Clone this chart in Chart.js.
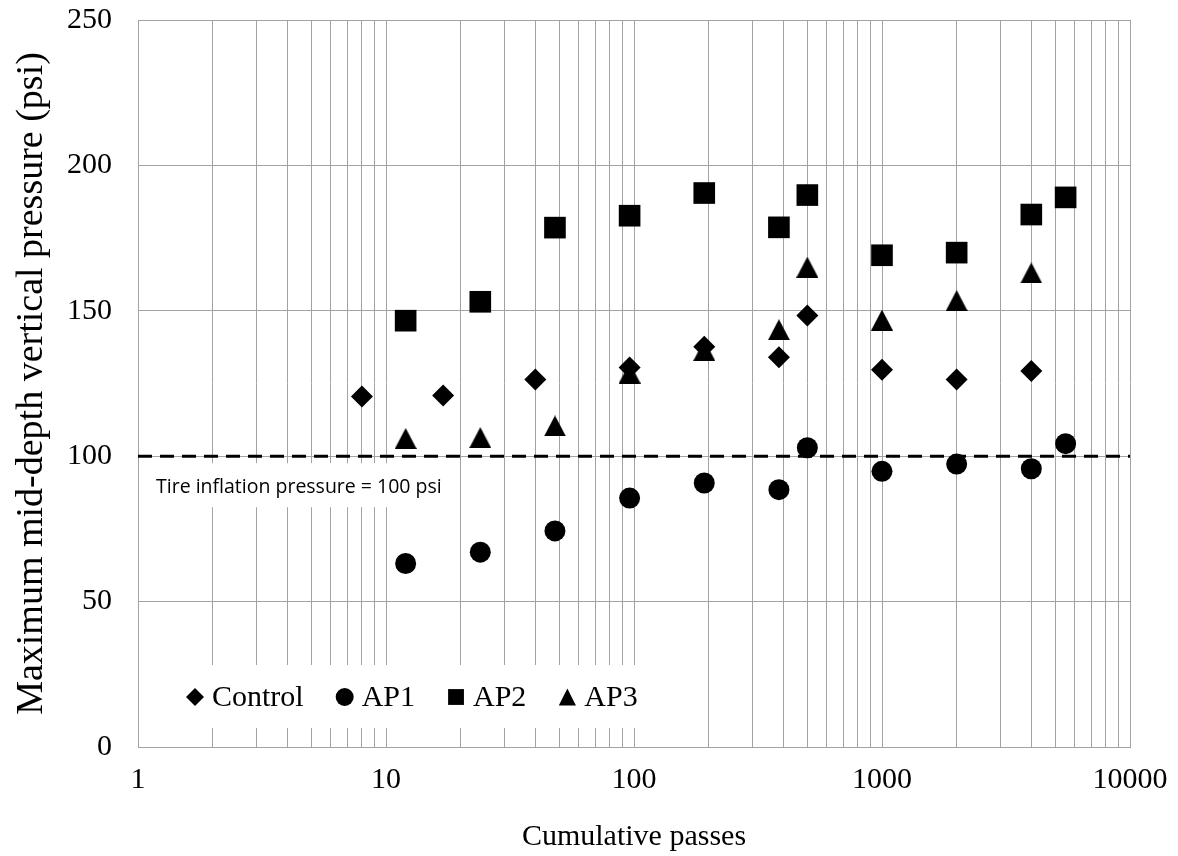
<!DOCTYPE html>
<html><head><meta charset="utf-8">
<script src="https://cdn.jsdelivr.net/npm/chart.js@4/dist/chart.umd.min.js"></script>
<style>html,body{margin:0;padding:0;background:#fff}#wrap{width:1178px;height:856px}</style>
</head><body><div id="wrap"><canvas id="c" width="1178" height="856"></canvas></div>
<script>
// ---- data ----
const xTickLabels = [1, 10, 100, 1000, 10000];
const yTickLabels = [0, 50, 100, 150, 200, 250];
const seriesNames = ['Control', 'AP1', 'AP2', 'AP3'];
const controlPasses = [8, 17, 40, 96, 192, 384, 500, 1000, 2000, 4000];
const controlPressure = [120.5, 120.9, 126.4, 130.5, 137.6, 134.0, 148.4, 129.7, 126.4, 129.3];
const ap1Passes = [12, 24, 48, 96, 192, 384, 500, 1000, 2000, 4000, 5500];
const ap1Pressure = [63.1, 67.0, 74.3, 85.6, 90.8, 88.5, 102.9, 94.8, 97.3, 95.7, 104.3];
const ap2Passes = [12, 24, 48, 96, 192, 384, 500, 1000, 2000, 4000, 5500];
const ap2Pressure = [146.6, 153.1, 178.6, 182.7, 190.5, 178.7, 189.8, 169.1, 170.0, 183.1, 189.0];
const ap3Passes = [12, 24, 48, 96, 192, 384, 500, 1000, 2000, 4000];
const ap3Pressure = [106.1, 106.4, 110.4, 128.6, 136.4, 143.5, 165.0, 146.8, 153.5, 163.0];
const tirePressure = 100;
const tireLabel = 'Tire inflation pressure = 100 psi';
const xTitle = 'Cumulative passes';
const yTitle = 'Maximum mid-depth vertical pressure (psi)';

// ---- styling helpers ----
const SERIF = '"Liberation Serif", "Times New Roman", serif';
function triCanvas(w, h) {
  const c = document.createElement('canvas'); c.width = w; c.height = h;
  const g = c.getContext('2d'); g.fillStyle = '#000';
  g.beginPath(); g.moveTo(w / 2, 0); g.lineTo(w, h); g.lineTo(0, h); g.closePath(); g.fill();
  return c;
}
const toXY = (xs, ys) => xs.map((v, i) => ({x: v, y: ys[i]}));

function drawMarker(ctx, kind, cx, cy, s) {
  ctx.beginPath();
  if (kind === 0) { ctx.moveTo(cx - s / 2, cy); ctx.lineTo(cx, cy - s / 2); ctx.lineTo(cx + s / 2, cy); ctx.lineTo(cx, cy + s / 2); ctx.closePath(); }
  else if (kind === 1) { ctx.arc(cx, cy, s / 2, 0, Math.PI * 2); }
  else if (kind === 2) { const q = s * 0.88; ctx.rect(cx - q / 2, cy - q / 2, q, q); }
  else { const q = s * 0.95; ctx.moveTo(cx, cy - q / 2); ctx.lineTo(cx + q / 2, cy + q / 2); ctx.lineTo(cx - q / 2, cy + q / 2); ctx.closePath(); }
  ctx.fill();
}

const overlay = {
  id: 'overlay',
  beforeDatasetsDraw(chart) {
    const {ctx, chartArea: a, scales: {y}} = chart;
    const yy = y.getPixelForValue(tirePressure);
    ctx.save();
    // annotation label box
    ctx.font = '19.5px "Open Sans", "Noto Sans", sans-serif';
    const tw = ctx.measureText(tireLabel).width;
    ctx.fillStyle = '#fff';
    ctx.fillRect(a.left + 1, yy + 7, tw + 34, 44);
    ctx.fillStyle = '#000'; ctx.textBaseline = 'middle'; ctx.textAlign = 'left';
    ctx.fillText(tireLabel, a.left + 18, yy + 31);
    // dashed line
    ctx.strokeStyle = '#000'; ctx.lineWidth = 3; ctx.setLineDash([14, 8]);
    ctx.beginPath(); ctx.moveTo(a.left, yy); ctx.lineTo(a.right, yy); ctx.stroke();
    ctx.setLineDash([]);
    // legend
    ctx.font = '30px ' + SERIF;
    let x = a.left + 46;
    const cy = a.bottom - 50;
    const widths = seriesNames.map(n => ctx.measureText(n).width);
    const total = widths.reduce((s, w) => s + w + 28, 0) + 30 * 3;
    ctx.fillStyle = '#fff';
    ctx.fillRect(a.left + 1, a.bottom - 82, x - a.left + total + 10, 63);
    seriesNames.forEach((n, i) => {
      ctx.fillStyle = '#000';
      drawMarker(ctx, i, x + 11, cy, 18);
      ctx.fillText(n, x + 28, cy + 1);
      x += 28 + widths[i] + 30;
    });
    ctx.restore();
  }
};

const gridColor = '#a3a3a3';
new Chart(document.getElementById('c'), {
  type: 'scatter',
  data: {
    datasets: [
      {label: seriesNames[0], data: toXY(controlPasses, controlPressure), pointStyle: 'rectRot', pointRadius: 11, backgroundColor: '#000', borderWidth: 0},
      {label: seriesNames[1], data: toXY(ap1Passes, ap1Pressure), pointStyle: 'circle', pointRadius: 10.5, backgroundColor: '#000', borderWidth: 0},
      {label: seriesNames[2], data: toXY(ap2Passes, ap2Pressure), pointStyle: 'rect', pointRadius: 15.3, backgroundColor: '#000', borderWidth: 0},
      {label: seriesNames[3], data: toXY(ap3Passes, ap3Pressure), pointStyle: triCanvas(22, 21), pointRadius: 11, backgroundColor: '#000', borderWidth: 0}
    ]
  },
  options: {
    responsive: false, animation: false,
    layout: {padding: {left: 0, right: 48, top: 20, bottom: 0}},
    plugins: {legend: {display: false}, tooltip: {enabled: false}},
    scales: {
      x: {
        type: 'logarithmic', min: 1, max: 10000,
        afterBuildTicks: s => {
          const t = [];
          for (let d = 1; d < 10000; d *= 10) for (let k = 1; k < 10; k++) t.push({value: k * d});
          t.push({value: 10000});
          s.ticks = t;
        },
        ticks: {autoSkip: false, maxRotation: 0, color: '#000', padding: 15,
          font: {family: SERIF, size: 30},
          callback: v => xTickLabels.includes(v) ? String(v) : ''},
        grid: {color: gridColor, lineWidth: 1, drawTicks: false},
        border: {color: gridColor, width: 1},
        title: {display: true, text: xTitle, color: '#000', font: {family: SERIF, size: 30}, padding: {top: 0, bottom: 1}},
        afterFit: s => { s.height = 109; s.paddingLeft = 0; s.paddingRight = 0; }
      },
      y: {
        min: 0, max: 250,
        afterBuildTicks: s => { s.ticks = yTickLabels.map(v => ({value: v})); },
        ticks: {color: '#000', padding: 26, font: {family: SERIF, size: 30}},
        grid: {color: gridColor, lineWidth: 1, drawTicks: false},
        border: {color: gridColor, width: 1},
        title: {display: true, text: yTitle, color: '#000', font: {family: SERIF, size: 38}, padding: {top: 9, bottom: 0}},
        afterFit: s => { s.width = 138; s.paddingTop = 0; s.paddingBottom = 0; }
      }
    }
  },
  plugins: [overlay]
});
</script>
</body></html>
